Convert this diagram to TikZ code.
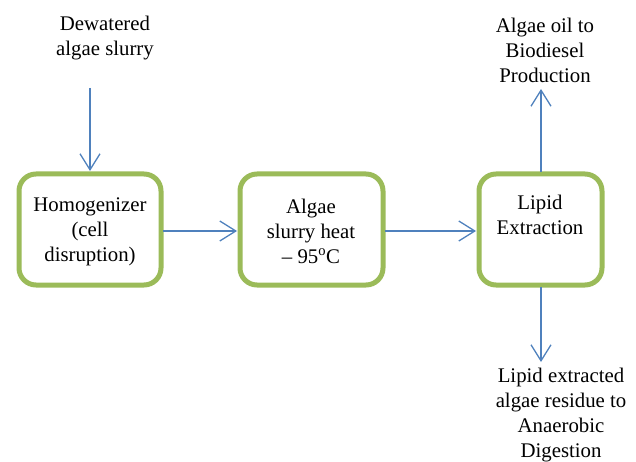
\documentclass[tikz,border=0pt]{standalone}
\usepackage{fontspec}
\setmainfont{Liberation Serif}
\usetikzlibrary{arrows.meta}
\definecolor{boxgreen}{RGB}{155,187,89}
\definecolor{flowblue}{RGB}{79,129,189}
\begin{document}
\begin{tikzpicture}[x=1pt,y=-1pt,
  stepbox/.style={draw=boxgreen,line width=5pt,rounded corners=17pt,fill=white},
  label/.style={font=\fontsize{20.8}{25}\selectfont,align=center,inner sep=0pt},
  flow/.style={draw=flowblue,line width=1.3pt,-{Straight Barb[length=16pt,width=20pt,line width=1.3pt]}}]
  \useasboundingbox (0,0) rectangle (636,462);
  % process boxes
  \draw[stepbox] (19,174) rectangle (161,285);
  \draw[stepbox] (240,174) rectangle (383,285);
  \draw[stepbox] (479,174) rectangle (602,285);
  \node[label] (hom) at (90,232) {Homogenizer\\(cell\\disruption)};
  \node[label] (heat) at (311,231) {Algae\\slurry heat\\\textendash{} 95\textsuperscript{o}C};
  \node[label] (lip) at (540,215) {Lipid\\Extraction};
  % box anchors
  \coordinate (b1t) at (90,171);
  \coordinate (b1e) at (163,231);
  \coordinate (b2w) at (237,231);
  \coordinate (b2e) at (385,231);
  \coordinate (b3w) at (476,231);
  \coordinate (b3t) at (541,172);
  \coordinate (b3b) at (541,287);
  % inputs and outputs
  \node[label] (slurry) at (105,38) {Dewatered\\algae slurry};
  \node[label] (oil) at (545,50) {Algae oil to\\Biodiesel\\Production};
  \node[label] (residue) at (561,415) {Lipid extracted\\algae residue to\\Anaerobic\\Digestion};
  \coordinate (inTop) at (90,88);
  \coordinate (oilEnd) at (541,89);
  \coordinate (resEnd) at (541,362);
  % connectors
  \draw[flow] (inTop) -- (b1t);
  \draw[flow] (b1e) -- (b2w);
  \draw[flow] (b2e) -- (b3w);
  \draw[flow] (b3t) -- (oilEnd);
  \draw[flow] (b3b) -- (resEnd);
\end{tikzpicture}
\end{document}
